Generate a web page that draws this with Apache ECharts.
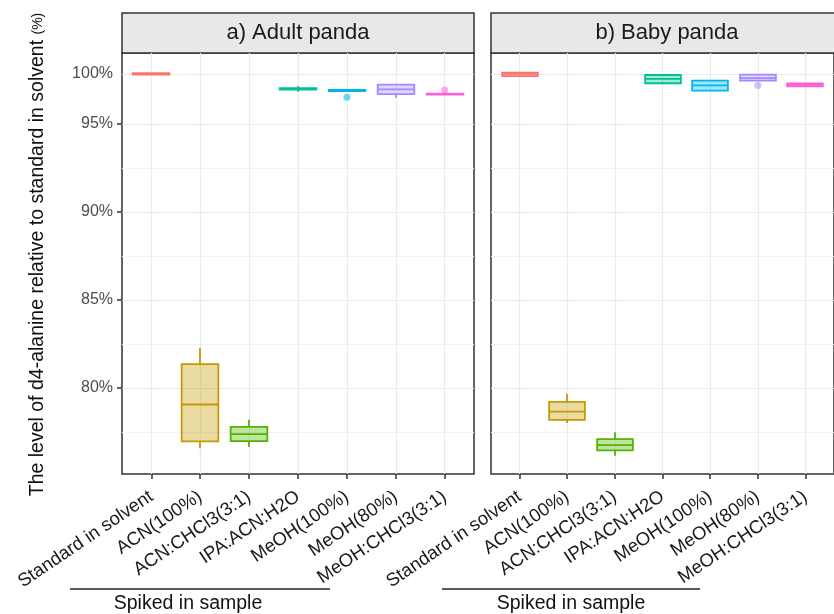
<!DOCTYPE html>
<html>
<head>
<meta charset="utf-8">
<script src="https://cdn.jsdelivr.net/npm/echarts@6/dist/echarts.min.js"></script>
<style>
  html, body { margin: 0; padding: 0; background: #fff; }
  #chart { width: 834px; height: 614px; }
</style>
</head>
<body>
<div id="chart"></div>
<script>
// categories along x, shared by both panels
const categories = ['Standard in solvent', 'ACN(100%)', 'ACN:CHCl3(3:1)', 'IPA:ACN:H2O',
  'MeOH(100%)', 'MeOH(80%)', 'MeOH:CHCl3(3:1)'];
const colors = ['#F8766D', '#C49A00', '#53B400', '#00C094', '#00B6EB', '#A58AFF', '#FB61D7'];
const panelTitles = ['a) Adult panda', 'b) Baby panda'];

// [min, Q1, median, Q3, max]
const adultBoxes = [
  [97.80, 97.80, 97.84, 97.88, 97.90],
  [76.57, 76.95, 79.05, 81.35, 82.26],
  [76.63, 76.97, 77.37, 77.78, 78.18],
  [96.83, 96.95, 96.99, 97.03, 97.16],
  [96.86, 96.86, 96.89, 96.93, 96.93],
  [96.49, 96.69, 96.96, 97.23, 97.23],
  [96.67, 96.67, 96.69, 96.72, 96.72]
];
const babyBoxes = [
  [97.70, 97.72, 97.84, 97.92, 97.95],
  [78.00, 78.18, 78.64, 79.20, 79.66],
  [76.14, 76.44, 76.74, 77.08, 77.48],
  [97.31, 97.31, 97.56, 97.78, 97.78],
  [96.89, 96.89, 97.19, 97.46, 97.46],
  [97.46, 97.46, 97.60, 97.80, 97.80],
  [97.12, 97.14, 97.22, 97.30, 97.32]
];
// [category position, value]
const adultOutliers = [[5, 96.52], [7, 96.93]];
const babyOutliers = [[6, 97.18]];

// y axis ticks / labels / grid
const yTicks = [80, 85, 90, 95];
const yLabelValues = [80, 85, 90, 95, 97.84];
const yLabelText = ['80%', '85%', '90%', '95%', '100%'];
const yMajorGrid = [80, 85, 90, 95, 97.84];
const yMinorGrid = [77.5, 82.5, 87.5, 92.5];
const xPositions = [1, 2, 3, 4, 5, 6, 7];

const FONT = 'Liberation Sans, Arial, sans-serif';
const panelLeft = [122, 491];
const panelTop = 53;
const panelW = 352;
const panelH = 421;

const chart = echarts.init(document.getElementById('chart'));

// box + whiskers without end caps, like ggplot
function renderBox(params, api) {
  const x = api.value(0);
  const c = colors[params.dataIndex];
  const pMin = api.coord([x, api.value(1)]);
  const pQ1 = api.coord([x, api.value(2)]);
  const pMed = api.coord([x, api.value(3)]);
  const pQ3 = api.coord([x, api.value(4)]);
  const pMax = api.coord([x, api.value(5)]);
  const half = api.size([0.75, 0])[0] / 2;
  const cx = Math.round(pMed[0]);
  const line = { stroke: c, lineWidth: 1.8 };
  return {
    type: 'group',
    children: [
      { type: 'line', shape: { x1: cx, y1: pMax[1], x2: cx, y2: pQ3[1] }, style: line },
      { type: 'line', shape: { x1: cx, y1: pQ1[1], x2: cx, y2: pMin[1] }, style: line },
      {
        type: 'rect',
        shape: { x: cx - half, y: pQ3[1], width: half * 2, height: pQ1[1] - pQ3[1] },
        style: { fill: c + '5c', stroke: c, lineWidth: 1.8 }
      },
      { type: 'line', shape: { x1: cx - half, y1: pMed[1], x2: cx + half, y2: pMed[1] }, style: line }
    ]
  };
}

function boxData(boxes) {
  return boxes.map(function (b, i) { return [xPositions[i]].concat(b); });
}

function outlierData(points) {
  return points.map(function (p) {
    return { value: p, itemStyle: { color: colors[p[0] - 1], opacity: 0.55 } };
  });
}

function gridLines() {
  const d = [];
  yMajorGrid.forEach(function (v) { d.push({ yAxis: v, lineStyle: { color: '#ebebeb', width: 1.2, type: 'solid' } }); });
  yMinorGrid.forEach(function (v) { d.push({ yAxis: v, lineStyle: { color: '#f2f2f2', width: 1, type: 'solid' } }); });
  xPositions.forEach(function (v) { d.push({ xAxis: v, lineStyle: { color: '#ebebeb', width: 1.2, type: 'solid' } }); });
  return d;
}

const grids = [], xAxes = [], yAxes = [], series = [], graphics = [];
[adultBoxes, babyBoxes].forEach(function (boxes, p) {
  grids.push({
    left: panelLeft[p], top: panelTop, width: panelW, height: panelH,
    show: true, borderColor: '#333', borderWidth: 1.5, backgroundColor: 'transparent'
  });
  xAxes.push({
    type: 'value', gridIndex: p, min: 0.4, max: 7.6,
    axisLine: { show: false },
    splitLine: { show: false },
    axisTick: { show: true, customValues: xPositions, length: 5, lineStyle: { color: '#333', width: 1.5 } },
    axisLabel: {
      customValues: xPositions, rotate: 34, margin: 21,
      fontFamily: FONT, fontSize: 18.5, color: '#1a1a1a',
      formatter: function (v) { return categories[Math.round(v) - 1]; }
    }
  });
  yAxes.push({
    type: 'value', gridIndex: p, min: 75.1, max: 99.03,
    axisLine: { show: false },
    splitLine: { show: false },
    axisTick: { show: p === 0, customValues: yTicks, length: 5, lineStyle: { color: '#333', width: 1.5 } },
    axisLabel: {
      show: p === 0, customValues: yLabelValues, margin: 9,
      fontFamily: FONT, fontSize: 16, color: '#4d4d4d',
      formatter: function (v) { return yLabelText[yLabelValues.indexOf(v)]; }
    },
    name: p === 0 ? '{a|The level of d4-alanine relative to standard in solvent }{b|(%)}' : '',
    nameLocation: 'middle', nameGap: 74, nameRotate: 90,
    nameTextStyle: {
      padding: [0, 0, 0, 18],
      rich: {
        a: { fontFamily: FONT, fontSize: 19.5, color: '#111' },
        b: { fontFamily: FONT, fontSize: 14, color: '#111' }
      }
    }
  });
  series.push({
    type: 'line', xAxisIndex: p, yAxisIndex: p, data: [], z: 1, silent: true,
    markLine: { silent: true, z: 1, symbol: 'none', label: { show: false }, data: gridLines(), animation: false }
  });
  series.push({
    type: 'custom', xAxisIndex: p, yAxisIndex: p, z: 3,
    renderItem: renderBox,
    encode: { x: 0, y: [1, 2, 3, 4, 5] },
    data: boxData(boxes)
  });
  series.push({
    type: 'scatter', xAxisIndex: p, yAxisIndex: p, z: 4,
    symbolSize: 7,
    data: outlierData(p === 0 ? adultOutliers : babyOutliers)
  });

  // facet strip
  graphics.push({
    type: 'rect', shape: { x: panelLeft[p], y: 13, width: panelW, height: 40 },
    style: { fill: '#e8e8e8', stroke: '#333', lineWidth: 1.5 }
  });
  graphics.push({
    type: 'text', x: panelLeft[p] + panelW / 2, y: 33,
    style: { text: panelTitles[p], fontFamily: FONT, fontSize: 22, fill: '#1a1a1a', align: 'center', verticalAlign: 'middle' }
  });
});

// "Spiked in sample" brackets under the labels
const spiked = [{ x1: 70, x2: 330, tx: 188 }, { x1: 442, x2: 700, tx: 571 }];
spiked.forEach(function (s) {
  graphics.push({
    type: 'line', shape: { x1: s.x1, y1: 589, x2: s.x2, y2: 589 },
    style: { stroke: '#222', lineWidth: 1.3 }
  });
  graphics.push({
    type: 'text', x: s.tx, y: 604,
    style: { text: 'Spiked in sample', fontFamily: FONT, fontSize: 19.5, fill: '#111', align: 'center', verticalAlign: 'middle' }
  });
});

chart.setOption({
  animation: false,
  backgroundColor: '#fff',
  grid: grids,
  xAxis: xAxes,
  yAxis: yAxes,
  series: series,
  graphic: graphics
});
</script>
</body>
</html>
